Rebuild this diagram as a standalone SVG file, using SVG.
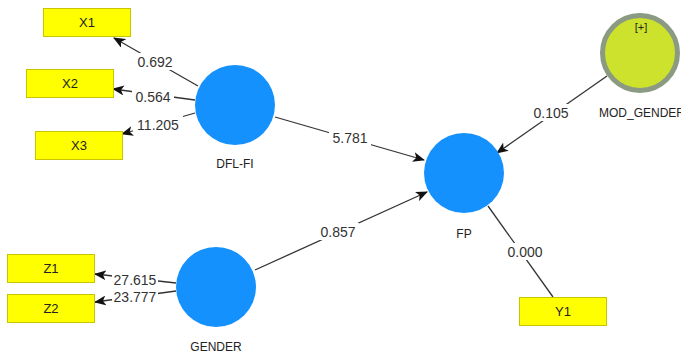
<svg xmlns="http://www.w3.org/2000/svg" width="681" height="355" viewBox="0 0 681 355">
<style>
.box{fill:#ffff00;stroke:#c9c400;stroke-width:1}
.lv{fill:#1591fd}
.t{font-family:"Liberation Sans",Arial,sans-serif;font-size:12px;fill:#222;text-anchor:middle}
.p{font-family:"Liberation Sans",Arial,sans-serif;font-size:14px;fill:#333;text-anchor:middle}
.b{font-size:13px}
.c{stroke:#333;stroke-width:1.3;fill:none}
.lb{fill:#fff}
</style>
<defs>
<marker id="ah" viewBox="0 0 12 10" refX="11" refY="5" markerWidth="12" markerHeight="10" markerUnits="userSpaceOnUse" orient="auto">
<path d="M0,0 L12,5 L0,10 L3,5 Z" fill="#111"/>
</marker>
</defs>
<rect width="681" height="355" fill="#fff"/>
<g id="connectors">
<line class="c" x1="198" y1="86" x2="114" y2="38" marker-end="url(#ah)"/>
<line class="c" x1="195" y1="100" x2="113" y2="89" marker-end="url(#ah)"/>
<line class="c" x1="195" y1="113" x2="122" y2="134" marker-end="url(#ah)"/>
<line class="c" x1="275" y1="117" x2="424" y2="160" marker-end="url(#ah)"/>
<line class="c" x1="255" y1="270" x2="427" y2="192" marker-end="url(#ah)"/>
<line class="c" x1="607" y1="76" x2="497" y2="153" marker-end="url(#ah)"/>
<line class="c" x1="488" y1="206" x2="553" y2="297"/>
<line class="c" x1="176" y1="283" x2="95" y2="274" marker-end="url(#ah)"/>
<line class="c" x1="176" y1="291" x2="95" y2="302" marker-end="url(#ah)"/>
<rect class="lb" x="134" y="53" width="42" height="17"/>
<text class="p" x="155" y="67">0.692</text>
<rect class="lb" x="132" y="88" width="42" height="17"/>
<text class="p" x="153" y="102">0.564</text>
<rect class="lb" x="133" y="116" width="50" height="17"/>
<text class="p" x="158" y="130">11.205</text>
<rect class="lb" x="329" y="129" width="42" height="17"/>
<text class="p" x="350" y="143">5.781</text>
<rect class="lb" x="317" y="223" width="42" height="17"/>
<text class="p" x="338" y="237">0.857</text>
<rect class="lb" x="530" y="104" width="42" height="17"/>
<text class="p" x="551" y="118">0.105</text>
<rect class="lb" x="504" y="243" width="42" height="17"/>
<text class="p" x="525" y="257">0.000</text>
<rect class="lb" x="112" y="272" width="46" height="14"/>
<text class="p" x="135" y="285">27.615</text>
<rect class="lb" x="112" y="289" width="46" height="14"/>
<text class="p" x="135" y="302">23.777</text>
</g>
<g id="X1"><rect class="box" x="43.5" y="8.5" width="87" height="28"/><text class="t b" x="87" y="27">X1</text></g>
<g id="X2"><rect class="box" x="26.5" y="69.5" width="87" height="28"/><text class="t b" x="70" y="88">X2</text></g>
<g id="X3"><rect class="box" x="35.5" y="131.5" width="87" height="28"/><text class="t b" x="79" y="150">X3</text></g>
<g id="Z1"><rect class="box" x="7.5" y="254.5" width="87" height="28"/><text class="t b" x="51" y="273">Z1</text></g>
<g id="Z2"><rect class="box" x="7.5" y="294.5" width="87" height="28"/><text class="t b" x="51" y="313">Z2</text></g>
<g id="Y1"><rect class="box" x="519.5" y="297.5" width="87" height="28"/><text class="t b" x="563" y="316">Y1</text></g>
<g id="DFL-FI"><circle class="lv" cx="235" cy="105" r="40"/><text class="t" x="235" y="168">DFL-FI</text></g>
<g id="GENDER"><circle class="lv" cx="216" cy="287" r="40"/><text class="t" x="216" y="351">GENDER</text></g>
<g id="FP"><circle class="lv" cx="464" cy="173" r="40"/><text class="t" x="464" y="238">FP</text></g>
<g id="MOD_GENDER"><circle cx="640" cy="53" r="37.5" fill="#cce22c" stroke="#8b9a82" stroke-width="5"/><text class="t" x="641" y="31" style="font-size:11px">[+]</text><text class="t" x="642" y="117">MOD_GENDER</text></g>
</svg>
